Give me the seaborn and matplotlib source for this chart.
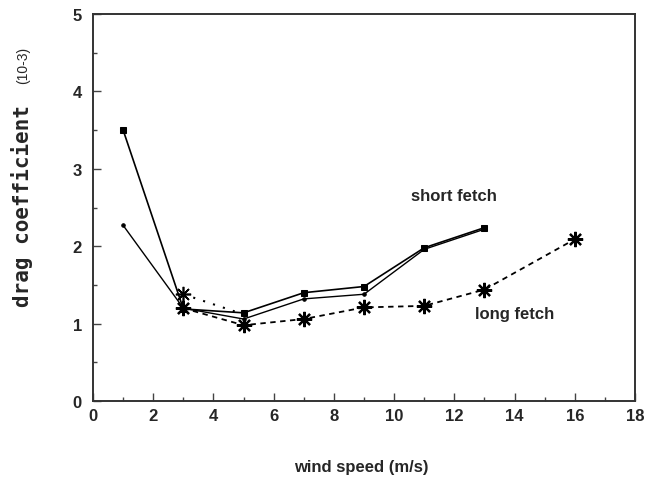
import pandas as pd
import seaborn as sns
import matplotlib.pyplot as plt
from matplotlib.ticker import MultipleLocator

# Data
wind_short = [1, 3, 5, 7, 9, 11, 13]
cd_short_a = [3.50, 1.19, 1.14, 1.40, 1.48, 1.98, 2.24]
cd_short_b = [2.27, 1.20, 1.06, 1.32, 1.38, 1.96, 2.22]

wind_long = [3, 5, 7, 9, 11, 13, 16]
cd_long = [1.20, 0.98, 1.06, 1.21, 1.23, 1.44, 2.09]

wind_dot = [3, 5]
cd_dot = [1.38, 1.12]

sns.set_style("ticks")
plt.rcParams["font.family"] = ["Liberation Sans Narrow", "Liberation Sans", "DejaVu Sans"]

fig = plt.figure(figsize=(6.46, 4.81), dpi=100)
ax = fig.add_axes([0.144, 0.164, 0.839, 0.805])

df_a = pd.DataFrame({"wind": wind_short, "cd": cd_short_a})
df_b = pd.DataFrame({"wind": wind_short, "cd": cd_short_b})
df_l = pd.DataFrame({"wind": wind_long, "cd": cd_long})
df_d = pd.DataFrame({"wind": wind_dot, "cd": cd_dot})

sns.lineplot(data=df_a, x="wind", y="cd", ax=ax, color="black", lw=1.2,
             marker="s", markersize=5, markeredgecolor="black")
sns.lineplot(data=df_b, x="wind", y="cd", ax=ax, color="black", lw=1.0,
             marker="o", markersize=2.5, markeredgecolor="black")
sns.lineplot(data=df_l, x="wind", y="cd", ax=ax, color="black", lw=1.3,
             linestyle=(0, (3, 2.5)), marker=(8, 2, 0), markersize=11,
             markeredgewidth=1.6, markeredgecolor="black")
sns.lineplot(data=df_d, x="wind", y="cd", ax=ax, color="black", lw=1.5,
             linestyle=(0, (1, 4)), markevery=[0], marker=(8, 2, 0),
             markersize=11, markeredgewidth=1.2, markeredgecolor="black")

ax.set_xlim(0, 18)
ax.set_ylim(0, 5)
ax.xaxis.set_major_locator(MultipleLocator(2))
ax.xaxis.set_minor_locator(MultipleLocator(1))
ax.yaxis.set_major_locator(MultipleLocator(1))
ax.yaxis.set_minor_locator(MultipleLocator(0.5))
ax.tick_params(which="both", direction="in", top=False, right=False,
               labelsize=12, width=1.0, color="#444444")
ax.tick_params(which="major", length=6)
ax.tick_params(which="minor", length=3)
for lab in ax.get_xticklabels() + ax.get_yticklabels():
    lab.set_fontweight("bold")
ax.tick_params(axis="x", pad=5)
ax.tick_params(axis="y", pad=8)
for sp in ax.spines.values():
    sp.set_linewidth(1.4)
    sp.set_color("#333333")

ax.set_xlabel("")
ax.set_ylabel("")
fig.text(0.56, 0.028, "wind speed (m/s)", ha="center", va="center",
         fontsize=12, fontweight="bold")
fig.text(0.034, 0.572, "drag coefficient", rotation=90,
         ha="center", va="center", fontsize=15, fontweight="bold",
         family="DejaVu Sans Mono")
fig.text(0.036, 0.863, "(10-3)", rotation=90, ha="center", va="center",
         fontsize=10)

ax.text(12.0, 2.65, "short fetch", ha="center", va="center",
        fontsize=12, fontweight="bold")
ax.text(14.0, 1.13, "long fetch", ha="center", va="center",
        fontsize=12, fontweight="bold")

fig.savefig("out.png", dpi=100, facecolor="white")
